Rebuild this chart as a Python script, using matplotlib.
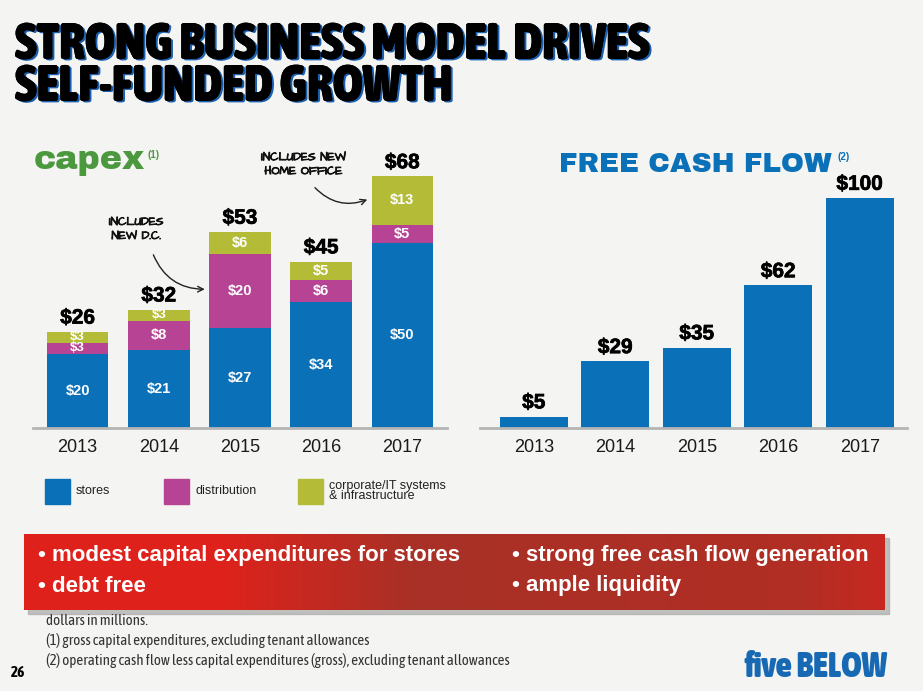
import matplotlib.pyplot as plt
import matplotlib.patheffects as pe
from matplotlib.patches import Rectangle
import numpy as np

W, H = 923, 691

years = ['2013', '2014', '2015', '2016', '2017']
capex_stores = [20, 21, 27, 34, 50]
capex_distribution = [3, 8, 20, 6, 5]
capex_corporate = [3, 3, 6, 5, 13]
capex_total = [26, 32, 53, 45, 68]
fcf = [5, 29, 35, 62, 100]

BLUE = '#0a70b8'
MAGENTA = '#b64394'
OLIVE = '#b4bb36'
BG = '#f4f4f2'
GREEN = '#4c983f'

# fonts, each with a fallback
TITLE_F = ['Asap Condensed', 'DejaVu Sans']
HEAD_F = ['Archivo Black', 'DejaVu Sans']
NUM_F = ['Liberation Sans', 'DejaVu Sans']
NARROW_F = ['Asap Condensed', 'Archivo Narrow', 'Liberation Sans']
HAND_F = ['Architects Daughter', 'DejaVu Sans']


def fx(x):
    return x / W


def fy(y):
    return 1 - y / H


fig = plt.figure(figsize=(9.23, 6.91), dpi=100, facecolor=BG)

# title
shadow = [pe.withSimplePatchShadow(offset=(1.5, -1), shadow_rgbFace='#1a5fb0', alpha=1), pe.Normal()]
fig.text(fx(15), fy(59), 'STRONG BUSINESS MODEL DRIVES', fontsize=37, fontweight=900, family=TITLE_F,
         va='baseline', ha='left', path_effects=shadow)
fig.text(fx(15), fy(101), 'SELF-FUNDED GROWTH', fontsize=37, fontweight=900, family=TITLE_F,
         va='baseline', ha='left', path_effects=shadow)

# ---- capex chart ----
scale_l = 3.7  # px per $
ax1 = fig.add_axes([fx(33), fy(428), fx(447) - fx(33), (428 - 140) / H])
ax1.set_facecolor('none')
x = np.arange(len(years))
bw = 0.76
bottoms2 = np.array(capex_stores)
bottoms3 = bottoms2 + np.array(capex_distribution)
ax1.bar(x, capex_stores, bw, color=BLUE)
ax1.bar(x, capex_distribution, bw, bottom=bottoms2, color=MAGENTA)
ax1.bar(x, capex_corporate, bw, bottom=bottoms3, color=OLIVE)
ax1.set_xlim(-0.55, 4.55)
ax1.set_ylim(0, (428 - 140) / scale_l)

total_fx = [pe.Stroke(linewidth=0.5, foreground='black'), pe.Normal()]
for i in range(len(years)):
    segs = [(0, capex_stores[i]), (bottoms2[i], capex_distribution[i]), (bottoms3[i], capex_corporate[i])]
    for b, v in segs:
        ax1.text(i, b + v / 2, f'${v}', color='white', fontsize=10.5 if v > 3 else 9.5,
                 fontweight='bold', family=NUM_F, ha='center', va='center')
    ax1.annotate(f'${capex_total[i]}', (i, capex_total[i]), xytext=(0, 3), textcoords='offset points',
                 ha='center', va='bottom', fontsize=15, fontweight='bold', family=NUM_F,
                 path_effects=total_fx)

# handwritten notes
note_kw = dict(fontsize=8.5, fontweight='bold', family=HAND_F, color='#111111', linespacing=1.0,
               path_effects=[pe.Stroke(linewidth=0.6, foreground='#111111'), pe.Normal()])
ax1.text(0.72, 53.5, 'INCLUDES\nNEW D.C.', ha='center', va='center', **note_kw)
ax1.annotate('', xy=(1.6, 37.5), xytext=(0.92, 47.5),
             arrowprops=dict(arrowstyle='->', color='#222222', lw=1,
                             connectionstyle='arc3,rad=0.35'))
ax1.text(2.78, 71, 'INCLUDES NEW\nHOME OFFICE', ha='center', va='center', **note_kw)
ax1.annotate('', xy=(3.6, 62), xytext=(2.9, 65.5),
             arrowprops=dict(arrowstyle='->', color='#222222', lw=1,
                             connectionstyle='arc3,rad=0.35'))

fig.text(fx(34), fy(161), 'capex', color=GREEN, fontsize=24, family=HEAD_F, va='center', ha='left')
fig.text(fx(147), fy(155), '(1)', color=GREEN, fontsize=7, fontweight='bold',
         family='Liberation Sans', va='center', ha='left')

# ---- free cash flow chart ----
scale_r = 2.3
ax2 = fig.add_axes([fx(480), fy(428), fx(907) - fx(480), (428 - 140) / H])
ax2.set_facecolor('none')
ax2.bar(x, fcf, 0.835, color=BLUE)
ax2.set_xlim(-0.66, 4.58)
ax2.set_ylim(0, (428 - 140) / scale_r)
for i, v in enumerate(fcf):
    ax2.annotate(f'${v}', (i, v), xytext=(0, 3), textcoords='offset points',
                 ha='center', va='bottom', fontsize=15, fontweight='bold', family=NUM_F,
                 path_effects=total_fx)

fig.text(fx(559), fy(164), 'FREE CASH FLOW', color=BLUE, fontsize=20, family=HEAD_F,
         va='center', ha='left')
fig.text(fx(838), fy(157), '(2)', color=BLUE, fontsize=7, fontweight='bold',
         family='Liberation Sans', va='center', ha='left')

for ax in (ax1, ax2):
    for s in ('top', 'right', 'left'):
        ax.spines[s].set_visible(False)
    ax.spines['bottom'].set_color('#b5b5b5')
    ax.spines['bottom'].set_linewidth(2)
    ax.set_yticks([])
    ax.set_xticks(x)
    ax.set_xticklabels(years, fontsize=13, family=NUM_F, color='#1a1a1a')
    ax.tick_params(axis='x', length=0, pad=8)

# legend
legend_items = [('stores', BLUE, 45), ('distribution', MAGENTA, 164),
                ('corporate/IT systems\n& infrastructure', OLIVE, 298)]
for label, col, lx in legend_items:
    fig.patches.append(Rectangle((fx(lx), fy(504)), 25 / W, 25 / H, transform=fig.transFigure,
                                 color=col, figure=fig))
    fig.text(fx(lx + 31), fy(491), label, fontsize=9, family=['Liberation Sans'],
             color='#222222', va='center', ha='left', linespacing=0.85)

# red banner with shadow: red on the left, darker halftone band to the right
fig.patches.append(Rectangle((fx(28), fy(614)), 861 / W, 76 / H, transform=fig.transFigure,
                             color='#a9a9a9', alpha=0.7, figure=fig, zorder=-1))
axb = fig.add_axes([fx(24), fy(610), 861 / W, 76 / H])
axb.axis('off')
red = np.array([0.878, 0.133, 0.106])
dark = np.array([0.66, 0.19, 0.15])
stops_x = [0.0, 0.22, 0.45, 0.9, 1.0]
stops_t = [0.0, 0.0, 1.0, 0.85, 0.45]
t = np.interp(np.linspace(0, 1, 400), stops_x, stops_t)[:, None]
img = (red * (1 - t) + dark * t)[None, :, :]
axb.imshow(img, aspect='auto', extent=[0, 1, 0, 1])
axb.set_xlim(0, 1)
axb.set_ylim(0, 1)

banner_kw = dict(color='white', fontsize=16, fontweight='bold', family=NUM_F,
                 va='center', ha='left')
fig.text(fx(38), fy(556), '• modest capital expenditures for stores', **banner_kw)
fig.text(fx(38), fy(586), '• debt free', **banner_kw)
fig.text(fx(512), fy(556), '• strong free cash flow generation', **banner_kw)
fig.text(fx(512), fy(586), '• ample liquidity', **banner_kw)

# footnotes
foot_kw = dict(fontsize=10.8, family=NARROW_F, color='#333333', va='center', ha='left')
fig.text(fx(46), fy(621), 'dollars in millions.', **foot_kw)
fig.text(fx(46), fy(640), '(1) gross capital expenditures, excluding tenant allowances', **foot_kw)
fig.text(fx(46), fy(661), '(2) operating cash flow less capital expenditures (gross), excluding tenant allowances',
         **foot_kw)
fig.text(fx(11), fy(673), '26', fontsize=11, fontweight='bold', family=NARROW_F,
         va='center', ha='left')
fig.text(fx(745), fy(667), 'five BELOW', color='#1769b3', fontsize=25, fontweight=900, family=TITLE_F,
         va='center', ha='left')

fig.savefig('out.png', dpi=100, facecolor=BG)
